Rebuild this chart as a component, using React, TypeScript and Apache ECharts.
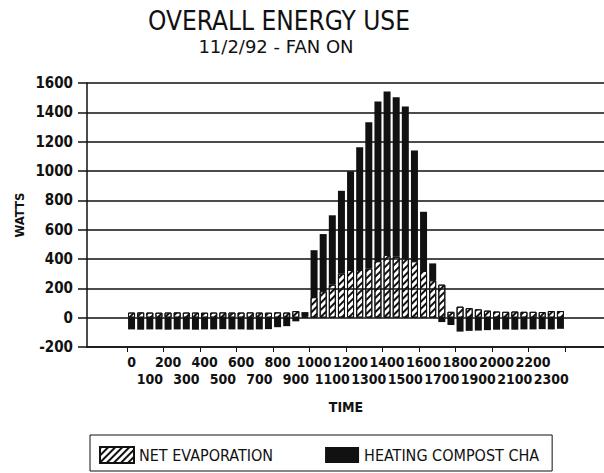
import React, { useEffect, useRef } from "react";
import * as echarts from "echarts";

const categories = [
  "0", "30", "100", "130", "200", "230", "300", "330", "400", "430", "500", "530",
  "600", "630", "700", "730", "800", "830", "900", "930", "1000", "1030", "1100", "1130",
  "1200", "1230", "1300", "1330", "1400", "1430", "1500", "1530", "1600", "1630", "1700", "1730",
  "1800", "1830", "1900", "1930", "2000", "2030", "2100", "2130", "2200", "2230", "2300", "2330",
];

const netEvaporation = [
  35, 36, 35, 34, 35, 36, 35, 35, 34, 35, 36, 35,
  35, 36, 35, 34, 36, 35, 45, 8, 140, 180, 225, 300,
  325, 325, 335, 385, 428, 415, 405, 385, 318, 255, 225, 40,
  75, 65, 57, 48, 42, 40, 42, 40, 40, 38, 45, 45,
];

const heatingCompost = [
  -80, -82, -80, -80, -82, -80, -80, -82, -80, -80, -78, -80,
  -80, -82, -80, -78, -65, -58, -25, 30, 320, 390, 473, 565,
  673, 837, 998, 1089, 1114, 1088, 1035, 755, 404, 115, -30, -50,
  -95, -90, -88, -85, -82, -80, -82, -80, -80, -78, -80, -76,
];

const seriesNames = ["NET EVAPORATION", "HEATING COMPOST CHA"];
const yMin = -200;
const yMax = 1600;
const yStep = 200;

const COND = "'DejaVu Sans Condensed', 'DejaVu Sans', sans-serif";

export default function App() {
  const ref = useRef<HTMLDivElement>(null);
  useEffect(() => {
    if (!ref.current) return;
    const chart = echarts.init(ref.current, undefined, { renderer: "svg" });
    const gridTop = 83;
    const gridHeight = 264;
    const xLabelStyle = {
      color: "#111",
      fontFamily: COND,
      fontWeight: "bold",
      fontSize: 14,
      hideOverlap: false,
      showMinLabel: true,
      showMaxLabel: true,
    };
    chart.setOption({
      animation: false,
      backgroundColor: "#fff",
      graphic: [
        {
          type: "text",
          x: 279,
          y: 21,
          style: {
            text: "OVERALL ENERGY USE",
            font: `normal 26px ${COND}`,
            fill: "#111",
            textAlign: "center",
            textVerticalAlign: "middle",
          },
        },
        {
          type: "text",
          x: 276,
          y: 46.5,
          style: {
            text: "11/2/92 - FAN ON",
            font: `normal 18px 'DejaVu Sans', sans-serif`,
            fill: "#111",
            textAlign: "center",
            textVerticalAlign: "middle",
          },
        },
        {
          type: "text",
          x: 19,
          y: 215,
          rotation: Math.PI / 2,
          style: {
            text: "WATTS",
            font: `bold 13px ${COND}`,
            fill: "#111",
            textAlign: "center",
            textVerticalAlign: "middle",
          },
        },
      ],
      legend: {
        left: 90,
        top: 435,
        padding: [11, 13, 7, 9],
        itemWidth: 34,
        itemHeight: 16,
        itemGap: 52,
        borderColor: "#111",
        borderWidth: 1,
        icon: "rect",
        textStyle: { fontFamily: COND, fontSize: 16, color: "#111" },
        data: seriesNames,
      },
      grid: [
        { left: 87, right: 0, top: gridTop, height: gridHeight },
        { left: 127, width: 438, top: gridTop, height: gridHeight },
      ],
      xAxis: [
        {
          gridIndex: 0,
          type: "value",
          min: 0,
          max: 1,
          axisLine: { show: true, onZero: false, lineStyle: { color: "#111", width: 1.5 } },
          axisTick: { show: false },
          axisLabel: { show: false },
          splitLine: { show: false },
        },
        {
          gridIndex: 1,
          type: "category",
          position: "bottom",
          data: categories,
          axisLine: { show: false, onZero: false },
          axisTick: { show: true, length: 5, lineStyle: { color: "#111", width: 1 } },
          axisLabel: {
            ...xLabelStyle,
            interval: (index: number) => index % 4 === 0,
            margin: 8,
          },
          name: "TIME",
          nameLocation: "middle",
          nameGap: 53,
          nameTextStyle: { fontFamily: COND, fontWeight: "bold", fontSize: 14, color: "#111", verticalAlign: "top" },
        },
        {
          gridIndex: 1,
          type: "category",
          position: "bottom",
          data: categories,
          axisLine: { show: false, onZero: false },
          axisTick: { show: false },
          splitLine: { show: false },
          axisLabel: {
            ...xLabelStyle,
            interval: (index: number) => index % 4 === 2,
            margin: 25,
          },
        },
      ],
      yAxis: [
        {
          gridIndex: 0,
          type: "value",
          min: yMin,
          max: yMax,
          interval: yStep,
          z: 3,
          axisLine: { show: true, lineStyle: { color: "#111", width: 1.5 } },
          axisTick: { show: true, length: 9, lineStyle: { color: "#111", width: 1.5 } },
          axisLabel: {
            margin: 14,
            color: "#111",
            fontFamily: COND,
            fontWeight: "bold",
            fontSize: 15,
            formatter: (v: number) => String(v),
          },
          splitLine: { show: true, lineStyle: { color: "#111", width: 1.5 } },
        },
        {
          gridIndex: 1,
          type: "value",
          min: yMin,
          max: yMax,
          interval: yStep,
          show: false,
          splitLine: { show: false },
        },
      ],
      series: [
        {
          name: seriesNames[0],
          type: "bar",
          xAxisIndex: 1,
          yAxisIndex: 1,
          stack: "total",
          barWidth: 7,
          data: netEvaporation,
          itemStyle: {
            color: "#fff",
            borderColor: "#111",
            borderWidth: 1,
            decal: {
              symbol: "rect",
              symbolSize: 1,
              color: "#111",
              backgroundColor: "#fff",
              dashArrayX: [1, 0],
              dashArrayY: [2, 3],
              rotation: -Math.PI / 4,
            },
          },
        },
        {
          name: seriesNames[1],
          type: "bar",
          xAxisIndex: 1,
          yAxisIndex: 1,
          stack: "total",
          barWidth: 7,
          data: heatingCompost,
          itemStyle: { color: "#111" },
        },
      ],
    });
    return () => chart.dispose();
  }, []);
  return (
    <div
      ref={ref}
      style={{ position: "fixed", left: 0, top: 0, width: 604, height: 473, background: "#fff" }}
    />
  );
}
